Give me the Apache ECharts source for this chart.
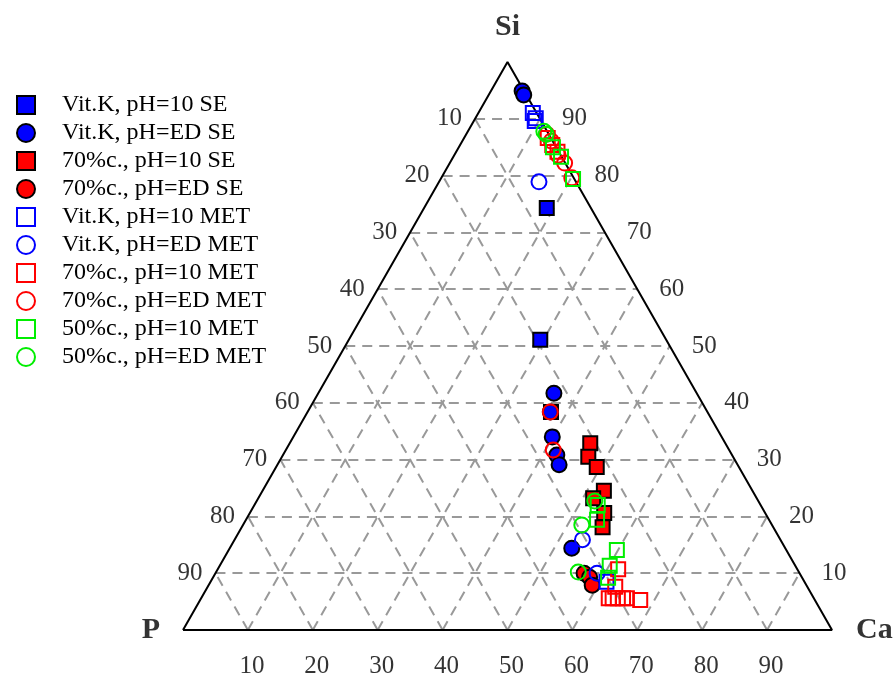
<!DOCTYPE html>
<html>
<head>
<meta charset="utf-8">
<script src="https://cdn.jsdelivr.net/npm/echarts@6/dist/echarts.min.js"></script>
<style>
  html, body { margin: 0; padding: 0; background: #fff; }
  #chart { width: 893px; height: 675px; }
</style>
</head>
<body>
<div id="chart"></div>
<script>
/* ----------  data: compositions as [Si, P, Ca] in %  ---------- */
const vitK10SE = [[74.3, 6.8, 18.9], [51.1, 19.4, 29.5], [38.4, 24.1, 37.5]];
const vitKEDSE = [
  [94.9, 0.3, 4.8], [94.2, 0.4, 5.4], [41.7, 22.0, 36.3], [38.4, 24.2, 37.4],
  [34.0, 26.1, 39.9], [30.8, 27.0, 42.2], [29.1, 27.5, 43.4], [14.4, 32.9, 52.7]
];
const c70pH10SE = [
  [32.9, 20.8, 46.3], [30.5, 22.3, 47.2], [28.7, 21.9, 49.4], [24.5, 22.9, 52.6],
  [23.2, 25.2, 51.6], [20.6, 24.8, 54.6], [18.1, 26.3, 55.6]
];
const c70EDSE = [[10.0, 33.2, 56.8], [9.3, 32.7, 58.0], [7.9, 33.0, 59.1]];
const vitK10MET = [[91.0, 0.6, 8.4], [90.1, 0.6, 9.3], [89.6, 1.0, 9.4], [8.5, 30.5, 61.0]];
const vitKEDMET = [[78.9, 5.7, 15.4], [15.9, 30.5, 53.6], [10.0, 31.2, 58.8]];
const c70pH10MET = [
  [86.6, 0.5, 12.9], [85.4, 0.4, 14.2], [84.2, 0.2, 15.6], [10.7, 27.6, 61.7],
  [7.6, 29.6, 62.8], [5.6, 31.6, 62.8], [5.6, 31.0, 63.4], [5.6, 30.2, 64.2],
  [5.6, 29.4, 65.0], [5.6, 28.8, 65.6], [5.3, 26.9, 67.8]
];
const c70EDMET = [
  [87.3, 0.3, 12.4], [86.1, 0.2, 13.7], [83.6, 0.4, 16.0], [82.2, 0.1, 17.7],
  [79.6, 0.3, 20.1], [38.4, 24.2, 37.4], [31.7, 27.1, 41.2]
];
const c50pH10MET = [
  [85.0, 0.5, 14.5], [83.3, 0.1, 16.6], [79.4, 0.2, 20.4], [22.0, 25.1, 52.9],
  [19.4, 26.5, 54.1], [14.1, 26.1, 59.8], [11.3, 28.6, 60.1], [9.2, 29.9, 60.9]
];
const c50EDMET = [
  [87.8, 0.5, 11.7], [87.3, 0.4, 12.3], [22.7, 25.2, 52.1], [18.5, 29.3, 52.2],
  [10.2, 34.0, 55.8]
];

const ticks = [10, 20, 30, 40, 50, 60, 70, 80, 90];
const vertexNames = ['Si', 'P', 'Ca'];

/* ----------  ternary -> cartesian (x = Ca + Si/2, y = Si)  ---------- */
function toXY(c) {
  const s = c[0] + c[1] + c[2];
  const si = (c[0] / s) * 100;
  const ca = (c[2] / s) * 100;
  return [ca + si / 2, si];
}

const FONT = 'Liberation Serif';

function pts(name, arr, symbol, fill, border) {
  return {
    name,
    type: 'scatter',
    symbol,
    symbolSize: symbol === 'rect' ? 14 : 15,
    z: 5,
    itemStyle: { color: fill, borderColor: border, borderWidth: 2, opacity: 1 },
    data: arr.map(toXY),
  };
}

/* ----------  grid lines  ---------- */
const gridLines = [];
ticks.forEach((k) => {
  gridLines.push({ coords: [toXY([k, 100 - k, 0]), toXY([k, 0, 100 - k])] });
  gridLines.push({ coords: [toXY([0, 100 - k, k]), toXY([100 - k, 0, k])] });
  gridLines.push({ coords: [toXY([0, k, 100 - k]), toXY([100 - k, k, 0])] });
});
gridLines.push({ coords: [toXY([0, 100, 0]), toXY([0, 0, 100])] });

const frame = [[0, 100, 0], [0, 0, 100], [100, 0, 0], [0, 100, 0]].map(toXY);

const tickStyle = { show: true, fontFamily: FONT, fontSize: 25, color: '#000' };

const series = [
  {
    type: 'lines',
    coordinateSystem: 'cartesian2d',
    z: 1,
    silent: true,
    lineStyle: { color: '#999', width: 2, type: [10, 7], opacity: 1 },
    data: gridLines,
  },
  {
    type: 'line',
    z: 2,
    silent: true,
    symbol: 'none',
    lineStyle: { color: '#000', width: 2 },
    data: frame,
  },
  // left side labels (P on the P-Si edge)
  {
    type: 'scatter', symbolSize: 0, silent: true,
    data: ticks.map((k) => ({ value: toXY([100 - k, k, 0]), name: String(k) })),
    label: { ...tickStyle, position: 'left', distance: 13, formatter: '{b}' },
  },
  // right side labels (Si on the Si-Ca edge)
  {
    type: 'scatter', symbolSize: 0, silent: true,
    data: ticks.map((k) => ({ value: toXY([k, 0, 100 - k]), name: String(k) })),
    label: { ...tickStyle, position: 'right', distance: 22, formatter: '{b}' },
  },
  // bottom labels (Ca on the P-Ca edge)
  {
    type: 'scatter', symbolSize: 0, silent: true,
    data: ticks.map((k) => ({ value: toXY([0, 100 - k, k]), name: String(k) })),
    label: { ...tickStyle, position: 'bottom', distance: 24, offset: [4, 0], formatter: '{b}' },
  },
  // vertex names
  {
    type: 'scatter', symbolSize: 0, silent: true,
    data: [
      { value: toXY([100, 0, 0]), name: vertexNames[0], label: { position: 'top', distance: 20 } },
      { value: toXY([0, 100, 0]), name: vertexNames[1], label: { position: 'left', distance: 23 } },
      { value: toXY([0, 0, 100]), name: vertexNames[2], label: { position: 'right', distance: 24 } },
    ],
    label: { show: true, fontFamily: FONT, fontSize: 30, fontWeight: 'bold', color: '#000', formatter: '{b}' },
  },
  pts('Vit.K, pH=10 SE', vitK10SE, 'rect', '#0000ff', '#000'),
  pts('Vit.K, pH=ED SE', vitKEDSE, 'circle', '#0000ff', '#000'),
  pts('70%c., pH=10 SE', c70pH10SE, 'rect', '#ff0000', '#000'),
  pts('70%c., pH=ED SE', c70EDSE, 'circle', '#ff0000', '#000'),
  pts('Vit.K, pH=10 MET', vitK10MET, 'rect', 'rgba(0,0,0,0)', '#0000ff'),
  pts('Vit.K, pH=ED MET', vitKEDMET, 'circle', 'rgba(0,0,0,0)', '#0000ff'),
  pts('70%c., pH=10 MET', c70pH10MET, 'rect', 'rgba(0,0,0,0)', '#ff0000'),
  pts('70%c., pH=ED MET', c70EDMET, 'circle', 'rgba(0,0,0,0)', '#ff0000'),
  pts('50%c., pH=10 MET', c50pH10MET, 'rect', 'rgba(0,0,0,0)', '#00ee00'),
  pts('50%c., pH=ED MET', c50EDMET, 'circle', 'rgba(0,0,0,0)', '#00ee00'),
];

const legendNames = series.filter((s) => s.name).map((s) => s.name);

const chart = echarts.init(document.getElementById('chart'), null, { renderer: 'canvas' });
chart.setOption({
  animation: false,
  backgroundColor: '#fff',
  grid: { left: 183, top: 62, width: 649, height: 568 },
  xAxis: { type: 'value', min: 0, max: 100, show: false },
  yAxis: { type: 'value', min: 0, max: 100, show: false },
  legend: {
    orient: 'vertical',
    left: 11,
    top: 88,
    itemWidth: 18,
    itemHeight: 18,
    itemGap: 4,
    selectedMode: false,
    textStyle: {
      fontFamily: FONT, fontSize: 24, lineHeight: 18, color: '#000',
      padding: [0, 0, 0, 22],
    },
    data: legendNames,
  },
  series,
});
</script>
</body>
</html>
